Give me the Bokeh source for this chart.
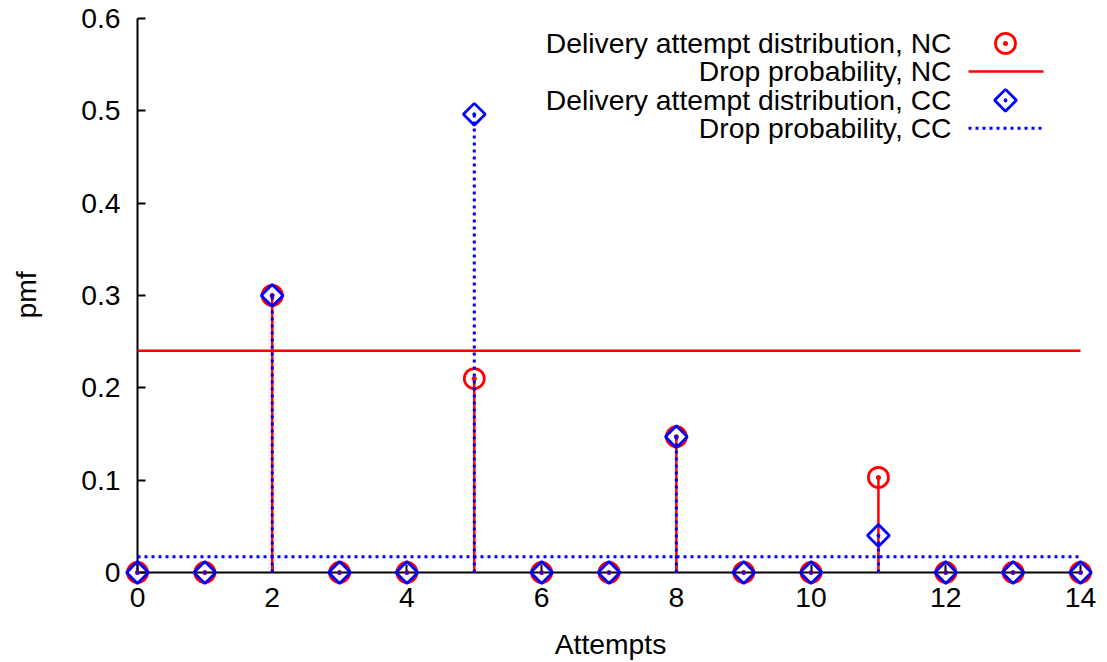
import math

from bokeh.core.properties import value
from bokeh.embed import file_html
from bokeh.models import FixedTicker, LinearAxis, PrintfTickFormatter, Range1d
from bokeh.plotting import figure
from bokeh.resources import INLINE

# ---- data -------------------------------------------------------------
attempts = list(range(15))
pmf_nc = [0, 0, 0.300, 0, 0, 0.210, 0, 0, 0.147, 0, 0, 0.103, 0, 0, 0]
pmf_cc = [0, 0, 0.300, 0, 0, 0.496, 0, 0, 0.147, 0, 0, 0.040, 0, 0, 0]
drop_nc = 0.24
drop_cc = 0.017

x_ticks = [0, 2, 4, 6, 8, 10, 12, 14]
y_ticks = [0, 0.1, 0.2, 0.3, 0.4, 0.5, 0.6]

legend_labels = [
    "Delivery attempt distribution, NC",
    "Drop probability, NC",
    "Delivery attempt distribution, CC",
    "Drop probability, CC",
]

# ---- styling ----------------------------------------------------------
FONT = "Liberation Sans"
FS = "28.3px"
RED = "#ff0000"
BLUE = "#0000ff"
CIRCLE_SIZE, DIAMOND_SIZE, MARK_W = 20, 15.5, 2.8

W, H = 1107, 662
BL, BR, BT, BB = 123, 10, 4, 76          # borders around the frame
X_LO, X_HI = -0.2078, 14.2524            # a little room so end markers are not cut
Y_LO, Y_HI = -0.01405, 0.61491

p = figure(
    width=W, height=H,
    x_range=Range1d(X_LO, X_HI), y_range=Range1d(Y_LO, Y_HI),
    output_backend="svg", toolbar_location=None,
    min_border_left=BL, min_border_right=BR,
    min_border_top=BT, min_border_bottom=BB,
)
p.outline_line_color = None
p.grid.visible = False
p.background_fill_color = "white"
p.border_fill_color = "white"

PX_X = (W - BL - BR) / (X_HI - X_LO)
PX_Y = (H - BT - BB) / (Y_HI - Y_LO)


def lx(px):
    return X_LO + (px - BL) / PX_X


def ly(py):
    return Y_HI - (py - BT) / PX_Y


def style_text(ax):
    ax.major_label_text_font = FONT
    ax.major_label_text_font_size = FS
    ax.major_label_text_color = "black"
    ax.axis_label_text_font = FONT
    ax.axis_label_text_font_size = FS
    ax.axis_label_text_font_style = "normal"
    ax.axis_label_text_color = "black"


# label-only axes on the frame edges
for ax in (p.xaxis[0], p.yaxis[0]):
    style_text(ax)
    ax.axis_line_color = None
    ax.major_tick_line_color = None
    ax.minor_tick_line_color = None
    ax.major_tick_in = 0
    ax.major_tick_out = 0
    ax.minor_tick_in = 0
    ax.minor_tick_out = 0

p.xaxis.ticker = FixedTicker(ticks=x_ticks)
p.yaxis.ticker = FixedTicker(ticks=y_ticks)
p.xaxis.formatter = PrintfTickFormatter(format="%g")
p.yaxis.formatter = PrintfTickFormatter(format="%g")
p.xaxis.axis_label = "Attempts"
p.yaxis.axis_label = "pmf"
p.xaxis.major_label_standoff = 2
p.xaxis.axis_label_standoff = 18
p.yaxis.major_label_standoff = 3
p.yaxis.axis_label_standoff = 36

# axis lines and inward ticks crossing at the origin
x_rule = LinearAxis(fixed_location=0, bounds=(0, 14),
                    ticker=FixedTicker(ticks=x_ticks), level="underlay")
y_rule = LinearAxis(fixed_location=0, bounds=(0, 0.6),
                    ticker=FixedTicker(ticks=y_ticks), level="underlay")
for ax in (x_rule, y_rule):
    ax.axis_line_width = 2
    ax.axis_line_color = "black"
    ax.major_tick_line_width = 2
    ax.major_tick_line_color = "black"
    ax.major_tick_in = 8
    ax.major_tick_out = 0
    ax.minor_tick_in = 0
    ax.minor_tick_out = 0
    ax.major_label_text_color = None
p.add_layout(x_rule, "below")
p.add_layout(y_rule, "left")

# ---- NC series ----------------------------------------------------------
zeros = [0] * len(attempts)
p.segment(x0=attempts, y0=zeros, x1=attempts, y1=pmf_nc,
          line_color=RED, line_width=2.5)
p.scatter(x=attempts, y=pmf_nc, marker="circle_dot", size=CIRCLE_SIZE,
          line_color=RED, line_width=MARK_W, fill_color=None)
p.segment(x0=[min(attempts)], y0=[drop_nc], x1=[max(attempts)], y1=[drop_nc],
          line_color=RED, line_width=2.5)

# ---- CC series ----------------------------------------------------------
p.segment(x0=attempts, y0=zeros, x1=attempts, y1=pmf_cc,
          line_color=BLUE, line_width=3, line_dash="3 4")
p.scatter(x=attempts, y=pmf_cc, marker="square_dot", angle=math.pi / 4,
          size=DIAMOND_SIZE, line_color=BLUE, line_width=MARK_W,
          fill_color=None)
p.segment(x0=[min(attempts)], y0=[drop_cc], x1=[max(attempts)], y1=[drop_cc],
          line_color=BLUE, line_width=3, line_dash="3 4")

# ---- legend (labels on the left, samples on the right) -------------------
rows = [43, 71, 100, 128]
p.text(x=[lx(951)] * 4, y=[ly(r) for r in rows], text=legend_labels,
       text_align="right", text_baseline="middle",
       text_font=value(FONT), text_font_size=FS, text_color="black")
p.scatter(x=[lx(1005)], y=[ly(rows[0])], marker="circle_dot",
          size=CIRCLE_SIZE, line_color=RED, line_width=MARK_W,
          fill_color=None)
p.segment(x0=[lx(968)], y0=[ly(rows[1])], x1=[lx(1043)], y1=[ly(rows[1])],
          line_color=RED, line_width=2.5)
p.scatter(x=[lx(1005)], y=[ly(rows[2])], marker="square_dot",
          angle=math.pi / 4, size=DIAMOND_SIZE, line_color=BLUE,
          line_width=MARK_W, fill_color=None)
p.segment(x0=[lx(968)], y0=[ly(rows[3])], x1=[lx(1043)], y1=[ly(rows[3])],
          line_color=BLUE, line_width=3, line_dash="3 4")

open("out.html", "w").write(file_html(p, INLINE))
